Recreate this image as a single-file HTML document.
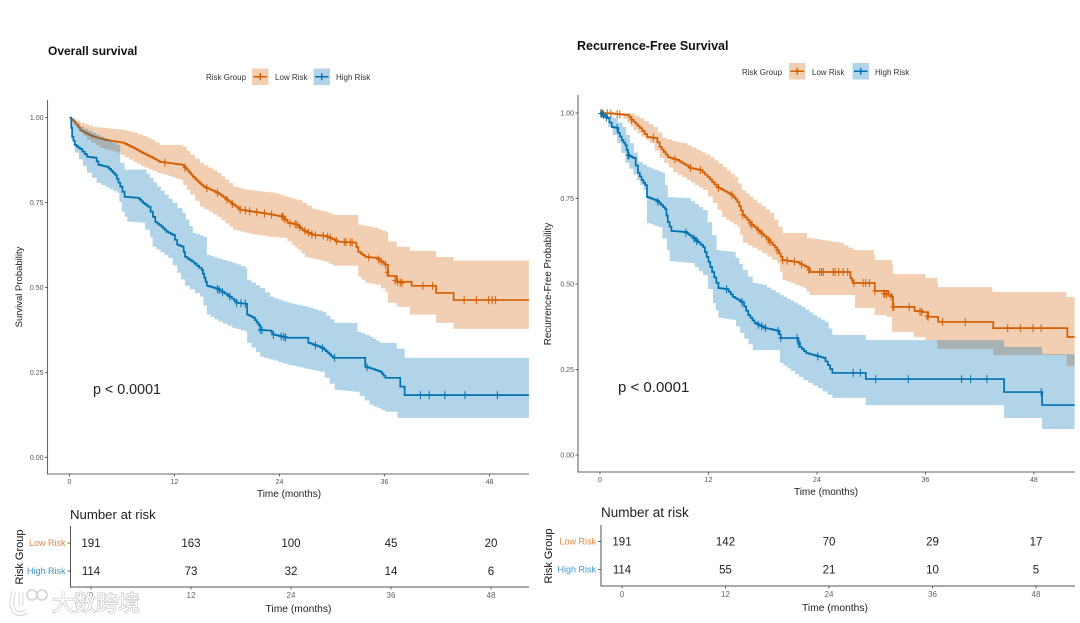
<!DOCTYPE html>
<html lang="en">
<head>
<meta charset="utf-8">
<title>Survival curves by risk group</title>
<style>
html,body{margin:0;padding:0;background:#fff;}
#stage{display:block;width:1080px;height:623px;filter:blur(.35px);font-family:"Liberation Sans",sans-serif;}
text{font-family:"Liberation Sans","Noto Sans CJK SC",sans-serif;}
</style>
</head>
<body>
<svg id="stage" xmlns="http://www.w3.org/2000/svg" width="1080" height="623" viewBox="0 0 1080 623">
  <rect x="0" y="0" width="1080" height="623" fill="#fff"/>
  <g id="os-panel">
    <text x="48" y="55" font-size="12" font-weight="700" fill="#111">Overall survival</text>
    <text x="206" y="80" font-size="8" fill="#333">Risk Group</text>
    <text x="275" y="80" font-size="8" fill="#333">Low Risk</text>
    <text x="336" y="80" font-size="8" fill="#333">High Risk</text>
    <text x="289" y="497" font-size="10" text-anchor="middle" fill="#222">Time (months)</text>
    <text transform="translate(22,287) rotate(-90)" font-size="9.5" text-anchor="middle" fill="#222">Survival Probability</text>
    <text x="93" y="394" font-size="14.3" fill="#222">p &lt; 0.0001</text>
    <text x="70" y="519" font-size="13.2" fill="#222">Number at risk</text>
    <text transform="translate(23,557) rotate(-90)" font-size="11" text-anchor="middle" fill="#111">Risk Group</text>
    <text x="298.5" y="612" font-size="10.3" text-anchor="middle" fill="#222">Time (months)</text>
  </g>
  <g id="rfs-panel">
    <text x="577" y="50" font-size="12.5" font-weight="700" fill="#111">Recurrence-Free Survival</text>
    <text x="742" y="75" font-size="8" fill="#333">Risk Group</text>
    <text x="812" y="75" font-size="8" fill="#333">Low Risk</text>
    <text x="875" y="75" font-size="8" fill="#333">High Risk</text>
    <text x="826" y="495" font-size="10" text-anchor="middle" fill="#222">Time (months)</text>
    <text transform="translate(551,284) rotate(-90)" font-size="9.8" text-anchor="middle" fill="#222">Recurrence-Free Probability</text>
    <text x="618" y="392" font-size="15" fill="#222">p &lt; 0.0001</text>
    <text x="601" y="517" font-size="13.5" fill="#222">Number at risk</text>
    <text transform="translate(552,556) rotate(-90)" font-size="11" text-anchor="middle" fill="#111">Risk Group</text>
    <text x="835" y="611" font-size="10.3" text-anchor="middle" fill="#222">Time (months)</text>
  </g>
  <g opacity=".95">
    <path d="M14 592 q-5 13 1 20 q6 4 11 -1 M21 592 v14" fill="none" stroke="#c8c8c8" stroke-width="4.5"/>
    <path d="M14 592 q-5 13 1 20 q6 4 11 -1 M21 592 v14" fill="none" stroke="#fff" stroke-width="3"/>
    <circle cx="32" cy="595" r="5" fill="none" stroke="#d4d4d4" stroke-width="1.8"/>
    <circle cx="42" cy="595" r="5" fill="none" stroke="#d4d4d4" stroke-width="1.8"/>
    <text x="52" y="611" font-size="22" fill="#fff" stroke="#bdbdbd" stroke-width="1.2" paint-order="stroke">大数跨境</text>
  </g>
</svg>
<script>
// Overall survival: Low Risk curve
const osLowTime = [0,.4,.8,1.2,1.8,2.7,4,6.1,7.3,8.2,9.2,10.3,11.5,12.9,13.5,14.1,14.7,15.3,16.1,16.9,17.8,18.7,19.5,21,22.6,24.4,24.9,26,26.6,27.8,29.2,29.8,30.6,32.6,33,33.8,35.1,36.1,36.4,37.4,39.1,41.9,43.9];
const osLowSurv = [1,.991,.979,.964,.955,.944,.935,.926,.911,.898,.885,.870,.866,.861,.844,.826,.811,.797,.788,.779,.762,.744,.729,.723,.717,.708,.691,.685,.670,.655,.652,.646,.635,.632,.605,.590,.587,.567,.534,.517,.505,.484,.463];
const osLowUpperTime = [0,.4,1.2,2.7,4.4,6.1,7.3,8.9,10.3,13,13.8,14.9,16.9,18.7,20.1,21.7,23.3,24.6,26,27.7,29.2,30.1,33,34.9,36.1,36.4,37.4,38.9,41.9,43.9];
const osLowUpperSurv = [1,.998,.985,.973,.968,.964,.956,.941,.920,.914,.891,.867,.838,.797,.788,.783,.779,.768,.758,.732,.723,.714,.685,.676,.664,.635,.620,.608,.590,.579];
const osLowLowerTime = [0,.4,1.2,2,3.5,5.4,7.3,8.6,10,11.3,12.6,13.8,14.9,16.9,18.7,20.6,22.9,24.4,25.4,26.1,26.9,29.2,30.1,33,33.8,35.1,36.1,36.4,37.4,38.9,41.9,43.9];
const osLowLowerSurv = [1,.994,.958,.935,.911,.897,.870,.853,.838,.828,.817,.773,.738,.708,.670,.658,.649,.646,.626,.611,.590,.576,.564,.532,.514,.508,.487,.455,.443,.420,.396,.378];
const osLowCensor = [10.9,13.2,15.7,16.9,18,18.6,19.5,20.1,20.6,21.4,22.3,23.1,24.3,24.4,24.6,25.2,25.8,26,26.3,26.9,27.3,27.7,28.1,29,29.5,29.8,30.5,31.4,31.6,32.1,32.3,34.2,35.3,35.6,36.1,36.3,37.2,37.5,37.8,38,40.4,41.5,45.1,46.5,47.9,48.3,48.7];

// Overall survival: High Risk curve
const osHighTime = [0,.2,.3,.6,1.2,2,2.9,3.3,4.3,5.2,5.8,6.3,7.8,8.4,9,9.8,10.5,11.1,11.8,12.3,12.9,13.2,14,15.1,15.4,15.7,16.9,18.3,19.1,20.1,20.3,21,21.6,21.8,22.9,23.3,24.9,27.3,28.9,29.5,30.1,33.8,35.5,36.1,37.8,38.3];
const osHighSurv = [1,.970,.944,.920,.908,.885,.882,.861,.855,.832,.797,.767,.764,.749,.738,.693,.679,.664,.655,.626,.620,.590,.576,.552,.529,.505,.496,.473,.455,.452,.420,.411,.390,.375,.373,.361,.352,.337,.322,.308,.293,.267,.252,.234,.208,.183];
const osHighUpperTime = [0,1.2,3.5,5.4,5.8,6.3,8.4,9.2,10,10.9,11.8,12.9,14.1,15.3,15.7,17,18.6,20.1,20.3,21.8,22.9,24.9,27.1,28.9,30.3,32.9,34.3,35.5,37.4,38.3];
const osHighUpperSurv = [1,.973,.944,.920,.867,.847,.847,.823,.797,.773,.749,.720,.661,.649,.596,.585,.573,.558,.523,.499,.473,.455,.443,.428,.396,.370,.355,.337,.320,.293];
const osHighLowerTime = [0,.2,.6,2,3.1,4.2,5.4,6,6.6,8.1,9.2,9.5,11.3,12.3,13.2,14.9,15.7,17,18.6,20.1,20.3,21.8,23.3,24.9,26.8,28.6,30.3,32.6,34.3,36.1,37.5];
const osHighLowerSurv = [1,.935,.897,.838,.808,.795,.779,.723,.694,.691,.649,.620,.587,.543,.505,.473,.420,.400,.381,.370,.337,.296,.285,.272,.262,.252,.199,.193,.155,.134,.116];
const osHighCensor = [16.9,17.1,17.5,18.3,19.1,19.6,20.1,21.8,22,23.3,24.2,24.5,24.7,28.1,28.9,30.3,34,40.1,41.1,42.9,45.2,48.9];

// Recurrence-free survival: Low Risk curve
const rfsLowTime = [0,1.1,2.2,3,3.5,4.4,5.2,6.1,6.6,7.5,8.5,10,11.1,11.9,12.9,14.6,15.2,15.8,16.8,17.7,18.6,19.6,20.2,21.8,23,23.2,27.7,28,30.4,31.9,32.3,32.4,34.8,35.7,36.3,37.4,43.5,51.7];
const rfsLowSurv = [1,.999,.996,.994,.980,.956,.930,.927,.901,.871,.863,.839,.833,.813,.784,.760,.740,.702,.673,.652,.629,.599,.570,.564,.547,.535,.518,.503,.480,.468,.462,.433,.421,.418,.404,.389,.371,.345];
const rfsLowUpperTime = [0,3.3,4.4,5.9,6.9,8,9.2,10.7,12.2,13.6,14.9,15.7,17.4,18.8,20.2,22.9,24.7,26.5,28,30.3,30.4,32.3,32.4,36,37.3,37.4,43.4,51.6];
const rfsLowUpperSurv = [1,.999,.985,.959,.927,.918,.912,.892,.871,.842,.813,.775,.737,.708,.649,.635,.628,.620,.599,.588,.570,.556,.529,.518,.503,.491,.477,.462];
const rfsLowLowerTime = [0,2.2,3,3.7,5.5,6.6,8.1,9.6,11.4,12.5,13.5,15.2,15.8,17.4,19.6,20.2,22.5,23.2,28.2,30.4,31.7,32.3,34.7,36,37.3,43.5,51.6];
const rfsLowLowerSurv = [1,.994,.971,.950,.912,.868,.827,.804,.775,.737,.696,.667,.620,.599,.561,.512,.488,.468,.430,.409,.404,.360,.345,.336,.310,.292,.260];
const rfsLowCensor = [.3,.8,1.2,1.9,2.2,3.5,5.9,8.3,10,11.1,13.1,14.6,15.8,16.6,16.8,17.5,17.9,18.6,18.8,19.6,20.2,20.7,21.5,22.3,23.1,24.3,24.5,24.7,25.8,26,26.4,26.9,27.4,28.1,29.1,29.4,29.8,30.4,31.4,31.5,31.7,32.2,32.4,32.5,34.2,35.4,35.6,36.2,36.3,37.9,40.4,45.1,46.5,47.9,48.8];

// Recurrence-free survival: High Risk curve
const rfsHighTime = [0,.4,.8,1.3,1.9,2,2.4,2.8,3.1,3.7,4.2,4.6,5,5.2,6.3,7.2,7.5,7.9,9.4,10.3,11.4,11.8,12.4,13.1,14,14.7,15.7,16.4,17.1,18.3,19.7,20,21.8,22.1,22.8,24.7,25.2,25.7,29.4,44.7,48.9];
const rfsHighSurv = [1,.994,.985,.959,.956,.942,.921,.906,.877,.868,.825,.804,.789,.754,.743,.719,.681,.655,.652,.635,.608,.579,.535,.488,.485,.462,.447,.409,.386,.371,.363,.342,.342,.316,.298,.284,.263,.240,.222,.184,.146];
const rfsHighUpperTime = [0,1.4,2.5,3.3,4.2,5.2,6.9,7.2,7.5,9.6,11.4,11.9,12.4,12.9,14.6,15.8,16.9,18,19.9,21.1,22.3,23.6,24.9,25.7,29.4,44.7,48.9];
const rfsHighUpperSurv = [1,.985,.959,.912,.857,.842,.825,.789,.754,.751,.716,.681,.643,.599,.594,.541,.503,.497,.468,.451,.433,.409,.389,.351,.336,.316,.295];
const rfsHighLowerTime = [0,.4,.9,1.9,2.8,4.1,4.8,5.2,6.4,7.4,7.7,10,11.4,12.5,13.1,14.6,15.5,16.9,19.9,21.1,22.5,24.1,25.7,29.4,44.7,48.9];
const rfsHighLowerSurv = [1,.985,.959,.912,.854,.804,.775,.678,.667,.599,.567,.561,.526,.444,.401,.395,.357,.307,.269,.246,.219,.195,.167,.146,.108,.076];
const rfsHighCensor = [.1,.2,.4,.7,1.9,3.1,3.2,6.4,9.5,10.4,10.7,14,15.7,17.5,17.9,18.3,19.7,20,21.8,22,24.1,28,28.8,30.5,34.1,40,41,42.8,48.8];

// Axis ticks and risk table values
const timeTicks = [0,12,24,36,48];
const timeTickLabels = ['0','12','24','36','48'];
const survTicks = [0,.25,.5,.75,1];
const survTickLabels = ['0.00','0.25','0.50','0.75','1.00'];
const riskGroups = ['Low Risk','High Risk'];
const osLowAtRisk = [191,163,100,45,20];
const osHighAtRisk = [114,73,32,14,6];
const rfsLowAtRisk = [191,142,70,29,17];
const rfsHighAtRisk = [114,55,21,10,5];

const SVG_NS = 'http://www.w3.org/2000/svg';
const LOW_COLOR = '#D55E00';
const HIGH_COLOR = '#0072B2';
const MAX_MONTH = 52.5;
const SHORT_GAP = 2.35;

function make(parent, tag, attrs, txt) {
  const el = document.createElementNS(SVG_NS, tag);
  for (const k in attrs) el.setAttribute(k, attrs[k]);
  if (txt !== undefined) el.textContent = txt;
  parent.appendChild(el);
  return el;
}

// Closely spaced readings are drawn as a fine staircase between them; long gaps hold flat, then drop.
function stepPoints(times, survs, xf, yf, fineUntil, pitch) {
  const pts = [[xf(times[0]), yf(survs[0])]];
  for (let i = 1; i < times.length; i++) {
    const x0 = xf(times[i - 1]), x1 = xf(times[i]);
    const y0 = yf(survs[i - 1]), y1 = yf(survs[i]);
    if (times[i] < fineUntil && times[i] - times[i - 1] < SHORT_GAP) {
      const n = Math.max(1, Math.ceil((x1 - x0) / pitch));
      let prevY = y0;
      for (let k = 1; k <= n; k++) {
        const xk = x0 + (x1 - x0) * k / n;
        const yk = y0 + (y1 - y0) * k / n;
        pts.push([xk, prevY]);
        pts.push([xk, yk]);
        prevY = yk;
      }
    } else {
      pts.push([x1, y0]);
      pts.push([x1, y1]);
    }
  }
  pts.push([xf(MAX_MONTH), yf(survs[survs.length - 1])]);
  return pts;
}

function pathOf(pts) {
  return 'M' + pts.map(p => p[0].toFixed(2) + ' ' + p[1].toFixed(2)).join('L');
}

function survAt(times, survs, t) {
  for (let i = 1; i < times.length; i++) {
    if (times[i] > t) {
      const f = (t - times[i - 1]) / (times[i] - times[i - 1]);
      if (times[i] - times[i - 1] >= SHORT_GAP) return survs[i - 1];
      return survs[i - 1] + (survs[i] - survs[i - 1]) * f;
    }
  }
  return survs[survs.length - 1];
}

function drawSeries(g, xf, yf, fineUntil, color, time, surv, upT, upS, loT, loS, censor) {
  const upper = stepPoints(upT, upS, xf, yf, fineUntil, 5);
  const lower = stepPoints(loT, loS, xf, yf, fineUntil, 5).reverse();
  const band = make(g, 'path', {d: pathOf(upper.concat(lower)) + 'Z', fill: color, 'fill-opacity': .3, stroke: 'none'});
  
  
  const line = make(g, 'path', {d: pathOf(stepPoints(time, surv, xf, yf, fineUntil, 2.5)), fill: 'none', stroke: color, 'stroke-width': 1.7});
  
  
  censor.forEach(function (t) {
    const x = xf(t);
    const y = yf(survAt(time, surv, t));
    const mark = make(g, 'path', {d: 'M' + (x - 2.5) + ' ' + y + 'h5M' + x + ' ' + (y - 4) + 'v8', fill: 'none', stroke: color, 'stroke-width': 1});
    
    
  });
}

function drawAxes(g, xf, yf, ax) {
  const yAxis = make(g, 'line', {x1: ax.left, x2: ax.left, y1: ax.top, y2: ax.bottom + .5, stroke: '#666', 'stroke-width': 1.1});
  
  
  const xAxis = make(g, 'line', {x1: ax.left, x2: ax.right, y1: ax.bottom, y2: ax.bottom, stroke: '#666', 'stroke-width': 1.1});
  
  
  timeTicks.forEach(function (t, i) {
    const tick = make(g, 'line', {x1: xf(t), x2: xf(t), y1: ax.bottom, y2: ax.bottom + 2.5, stroke: '#444', 'stroke-width': .8});
    
    
    const label = make(g, 'text', {x: xf(t), y: ax.bottom + 10, 'font-size': 7, 'text-anchor': 'middle', fill: '#555'}, timeTickLabels[i]);
    
    
  });
  survTicks.forEach(function (s, i) {
    const tick = make(g, 'line', {x1: ax.left - 2.5, x2: ax.left, y1: yf(s), y2: yf(s), stroke: '#444', 'stroke-width': .8});
    
    
    const label = make(g, 'text', {x: ax.left - 4, y: yf(s) + 2.5, 'font-size': 7, 'text-anchor': 'end', fill: '#555'}, survTickLabels[i]);
    
    
  });
}

function drawLegendKey(g, x, y, size, color) {
  const box = make(g, 'rect', {x: x, y: y, width: size, height: size, fill: color, 'fill-opacity': .3});
  
  
  const cy = y + size / 2;
  const cx = x + size / 2;
  const mark = make(g, 'path', {d: 'M' + (x + 1.5) + ' ' + cy + 'H' + (x + size - 1.5) + 'M' + cx + ' ' + (cy - 3.5) + 'v7', fill: 'none', stroke: color, 'stroke-width': 1.4});
  
  
}

function drawTable(g, tx, rowY, t, lowCounts, highCounts) {
  const yAxis = make(g, 'line', {x1: t.left, x2: t.left, y1: t.top, y2: t.bottom + .5, stroke: '#555', 'stroke-width': 1});
  
  
  const xAxis = make(g, 'line', {x1: t.left, x2: t.right, y1: t.bottom, y2: t.bottom, stroke: '#555', 'stroke-width': 1});
  
  
  [lowCounts, highCounts].forEach(function (counts, r) {
    const color = r === 0 ? LOW_COLOR : HIGH_COLOR;
    const y = rowY(r);
    const group = make(g, 'text', {x: t.left - 5, y: y + 3, 'font-size': 9, 'text-anchor': 'end', fill: color, 'fill-opacity': .75}, riskGroups[r]);
    
    
    const tick = make(g, 'line', {x1: t.left - 3, x2: t.left, y1: y, y2: y, stroke: '#444', 'stroke-width': .8});
    
    
    counts.forEach(function (n, i) {
      const cell = make(g, 'text', {x: tx(timeTicks[i]), y: y + 4, 'font-size': 11.5, 'text-anchor': 'middle', fill: '#222'}, n);
      
      
    });
  });
  timeTicks.forEach(function (m, i) {
    const tick = make(g, 'line', {x1: tx(m), x2: tx(m), y1: t.bottom, y2: t.bottom + 2.5, stroke: '#444', 'stroke-width': .8});
    
    
    const label = make(g, 'text', {x: tx(m), y: t.bottom + 11, 'font-size': 8, 'text-anchor': 'middle', fill: '#666'}, timeTickLabels[i]);
    
    
  });
}

// Overall survival panel
const osG = document.getElementById('os-panel');
const osX = t => 69.5 + t * 8.75;
const osY = s => 457.3 - s * 339.6;
drawSeries(osG, osX, osY, 36.2, LOW_COLOR, osLowTime, osLowSurv, osLowUpperTime, osLowUpperSurv, osLowLowerTime, osLowLowerSurv, osLowCensor);
drawSeries(osG, osX, osY, 36.2, HIGH_COLOR, osHighTime, osHighSurv, osHighUpperTime, osHighUpperSurv, osHighLowerTime, osHighLowerSurv, osHighCensor);
drawAxes(osG, osX, osY, {left: 47.5, right: 529, top: 100, bottom: 474});
drawLegendKey(osG, 252, 68.5, 16.5, LOW_COLOR);
drawLegendKey(osG, 313.5, 68.5, 16.5, HIGH_COLOR);
drawTable(osG, t => 91 + t * 8.333, r => 543 + r * 28, {left: 70.5, right: 529, top: 526, bottom: 587}, osLowAtRisk, osHighAtRisk);

// Recurrence-free survival panel
const rfsG = document.getElementById('rfs-panel');
const rfsX = t => 600 + t * 9.04;
const rfsY = s => 455 - s * 342;
drawSeries(rfsG, rfsX, rfsY, 29, LOW_COLOR, rfsLowTime, rfsLowSurv, rfsLowUpperTime, rfsLowUpperSurv, rfsLowLowerTime, rfsLowLowerSurv, rfsLowCensor);
drawSeries(rfsG, rfsX, rfsY, 29, HIGH_COLOR, rfsHighTime, rfsHighSurv, rfsHighUpperTime, rfsHighUpperSurv, rfsHighLowerTime, rfsHighLowerSurv, rfsHighCensor);
drawAxes(rfsG, rfsX, rfsY, {left: 578, right: 1075, top: 95, bottom: 472});
drawLegendKey(rfsG, 789, 63, 16.5, LOW_COLOR);
drawLegendKey(rfsG, 852.5, 63, 16.5, HIGH_COLOR);
drawTable(rfsG, t => 622 + t * 8.625, r => 541.5 + r * 28, {left: 601, right: 1075, top: 525, bottom: 586}, rfsLowAtRisk, rfsHighAtRisk);
</script>
</body>
</html>
